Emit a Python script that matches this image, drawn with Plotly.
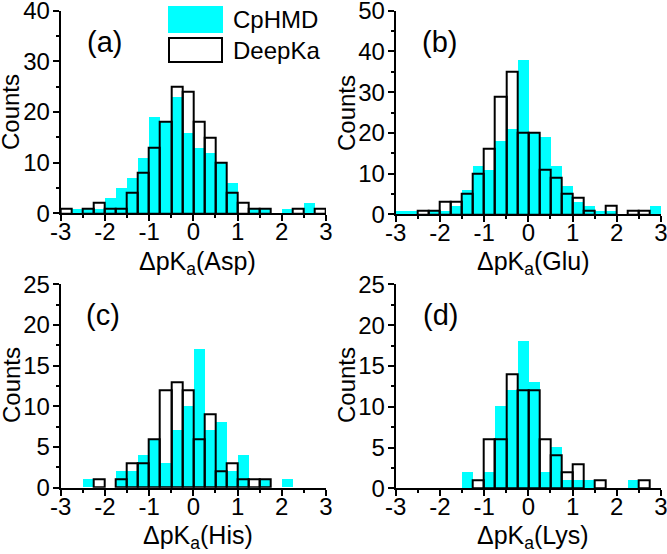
import plotly.graph_objects as go

# ---------------- data ----------------
bin_centers = [-2.875, -2.625, -2.375, -2.125, -1.875, -1.625, -1.375, -1.125,
               -0.875, -0.625, -0.375, -0.125, 0.125, 0.375, 0.625, 0.875,
               1.125, 1.375, 1.625, 1.875, 2.125, 2.375, 2.625, 2.875]
bin_width = 0.25

asp_cphmd = [0, 1, 1, 1, 3, 5, 7, 11, 19, 18, 23, 16, 13, 12, 10, 6, 0, 1, 1, 0, 1, 0, 2, 0]
asp_deepka = [1, 0, 1, 2, 1, 1, 4, 8, 13, 18, 25, 24, 18, 15, 10, 4, 2, 1, 1, 0, 0, 1, 0, 1]
glu_cphmd = [1, 1, 0, 1, 1, 2, 6, 12, 11, 18, 21, 38, 20, 19, 12, 7, 3, 2, 1, 1, 0, 0, 0, 2]
glu_deepka = [0, 0, 1, 1, 3, 3, 5, 10, 16, 29, 35, 20, 20, 11, 9, 5, 4, 1, 0, 2, 0, 1, 1, 0]
his_cphmd = [0, 0, 1, 0, 0, 2, 2, 4, 6, 3, 7, 10, 17, 7, 8, 2, 4, 0, 1, 0, 1, 0, 0, 0]
his_deepka = [0, 0, 0, 1, 0, 1, 3, 3, 6, 12, 13, 12, 6, 9, 2, 3, 1, 1, 1, 0, 0, 0, 0, 0]
lys_cphmd = [0, 0, 0, 0, 0, 0, 2, 0, 2, 10, 12, 18, 13, 2, 5, 1, 1, 1, 0, 0, 0, 1, 0, 0]
lys_deepka = [0, 0, 0, 0, 0, 0, 0, 1, 6, 6, 14, 12, 12, 6, 4, 2, 3, 0, 1, 0, 0, 0, 1, 0]

panel_labels = ["(a)", "(b)", "(c)", "(d)"]
residues = ["Asp", "Glu", "His", "Lys"]
series_names = ["CpHMD", "DeepKa"]
y_max = [40, 50, 25, 25]
y_dtick = [10, 10, 5, 5]
x_tickvals = [-3, -2, -1, 0, 1, 2, 3]
x_ticktext = ["-3", "-2", "-1", "0", "1", "2", "3"]

cphmd_all = [asp_cphmd, glu_cphmd, his_cphmd, lys_cphmd]
deepka_all = [asp_deepka, glu_deepka, his_deepka, lys_deepka]

# ---------------- layout geometry (pixels) ----------------
W, H = 667, 554
FONT = "Liberation Sans, Arial, sans-serif"
CYAN = "#00FFFF"
FS = 24

# plot boxes: (left, right, top, bottom) in pixel coords from top-left
boxes = [(60.7, 326.0, 10.7, 213.3),
         (395.7, 661.0, 10.7, 214.3),
         (60.7, 326.0, 284.3, 487.7),
         (395.7, 661.0, 284.3, 488.3)]


def px(x):
    return x / W


def py(y):
    return 1 - y / H


fig = go.Figure()

for i in range(4):
    xa = "x" if i == 0 else f"x{i+1}"
    ya = "y" if i == 0 else f"y{i+1}"
    cp = [v if v > 0 else None for v in cphmd_all[i]]
    dk = [v if v > 0 else None for v in deepka_all[i]]
    fig.add_trace(go.Bar(x=bin_centers, y=cp, width=bin_width, name=series_names[0],
                         marker=dict(color=CYAN, line=dict(width=0)),
                         xaxis=xa, yaxis=ya, showlegend=False, hoverinfo="skip"))
    fig.add_trace(go.Bar(x=bin_centers, y=dk, width=bin_width, name=series_names[1],
                         marker=dict(color="rgba(0,0,0,0)", line=dict(color="black", width=2)),
                         xaxis=xa, yaxis=ya, showlegend=False, hoverinfo="skip"))

    l, r, t, b = boxes[i]
    axis_common = dict(showline=True, linewidth=2, linecolor="black", mirror=False,
                       ticks="outside", ticklen=6, tickwidth=2, tickcolor="black",
                       showgrid=False, zeroline=False, automargin=False,
                       ticklabeloverflow="allow",
                       tickfont=dict(family=FONT, size=FS, color="black"))
    xkey = "xaxis" if i == 0 else f"xaxis{i+1}"
    ykey = "yaxis" if i == 0 else f"yaxis{i+1}"
    fig.update_layout(**{
        xkey: dict(domain=[px(l), px(r)], range=[-3, 3], anchor=ya,
                   tickmode="array", tickvals=x_tickvals, ticktext=x_ticktext,
                   ticklabelstandoff=-10,
                   minor=dict(ticks="outside", ticklen=3, tickwidth=2, tickcolor="black", dtick=0.5,
                              tick0=0),
                   **axis_common),
        ykey: dict(domain=[py(b), py(t)], range=[0, y_max[i]], anchor=xa,
                   tick0=0, dtick=y_dtick[i], ticklabelstandoff=-2,
                   minor=dict(ticks="outside", ticklen=3, tickwidth=2, tickcolor="black",
                              dtick=y_dtick[i] / 2, tick0=0),
                   **axis_common),
    })

# annotations: panel labels, axis titles
ann = []
label_pos = [(104, 42), (439, 42), (103, 315), (440, 315)]
xtitle_pos = [(197, 263), (533, 263), (198, 537), (533, 537)]
ytitle_pos = [(11, 112), (346, 113), (11, 385), (346, 385)]
for i in range(4):
    ann.append(dict(x=px(label_pos[i][0]), y=py(label_pos[i][1]), xref="paper", yref="paper",
                    text=panel_labels[i], showarrow=False, xanchor="center", yanchor="middle",
                    font=dict(family=FONT, size=29, color="black")))
    ann.append(dict(x=px(xtitle_pos[i][0]), y=py(xtitle_pos[i][1]), xref="paper", yref="paper",
                    text=f"ΔpK<sub>a</sub>({residues[i]})", showarrow=False,
                    xanchor="center", yanchor="middle",
                    font=dict(family=FONT, size=25, color="black")))
    ann.append(dict(x=px(ytitle_pos[i][0]), y=py(ytitle_pos[i][1]), xref="paper", yref="paper",
                    text="Counts", showarrow=False, textangle=-90,
                    xanchor="center", yanchor="middle",
                    font=dict(family=FONT, size=FS, color="black")))

# legend (drawn in panel a)
ann.append(dict(x=px(231), y=py(20), xref="paper", yref="paper", text=series_names[0],
                showarrow=False, xanchor="left", yanchor="middle",
                font=dict(family=FONT, size=FS, color="black")))
ann.append(dict(x=px(231), y=py(51), xref="paper", yref="paper", text=series_names[1],
                showarrow=False, xanchor="left", yanchor="middle",
                font=dict(family=FONT, size=FS, color="black")))
shapes = [
    dict(type="rect", xref="paper", yref="paper", x0=px(168), x1=px(223), y0=py(33), y1=py(6),
         fillcolor=CYAN, line=dict(width=0)),
    dict(type="rect", xref="paper", yref="paper", x0=px(169), x1=px(222), y0=py(62), y1=py(38),
         fillcolor="white", line=dict(color="black", width=2)),
]

fig.update_layout(width=W, height=H,
                  margin=dict(l=0, r=0, t=0, b=0, pad=0, autoexpand=False),
                  paper_bgcolor="white", plot_bgcolor="white",
                  barmode="overlay", bargap=0, showlegend=False,
                  annotations=ann, shapes=shapes)

fig.write_html("out.html", config={"displayModeBar": False},
               post_script="document.body.style.margin='0px';document.body.style.padding='0px';")
